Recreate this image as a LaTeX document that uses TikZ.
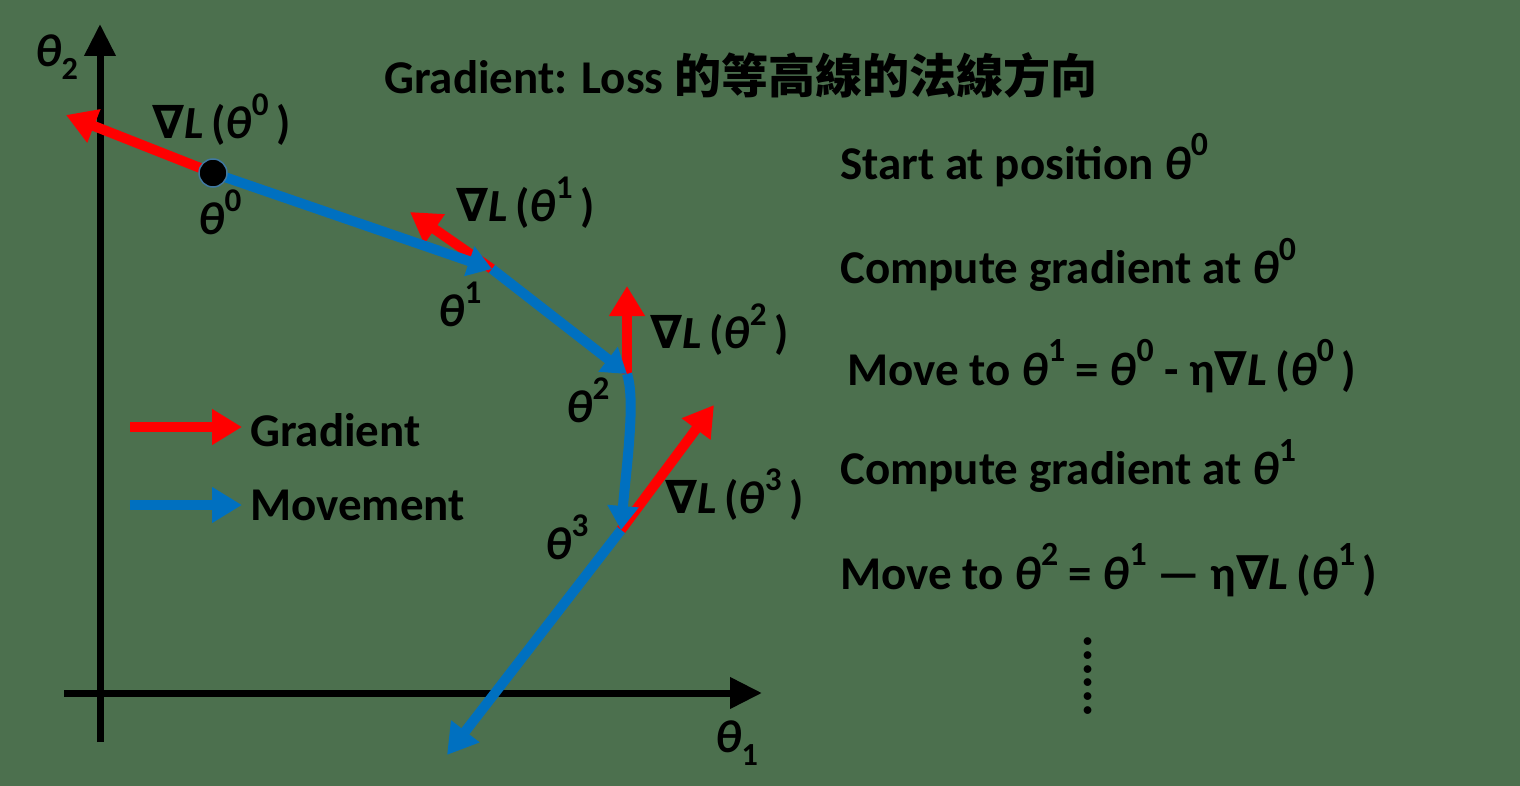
\documentclass[tikz,border=0pt]{standalone}
\usepackage{fontspec}
\setmainfont{Carlito}
\newfontfamily\cjk{Noto Sans CJK TC}
\newfontfamily\dv{DejaVu Sans}
\usetikzlibrary{arrows.meta}
\definecolor{bg}{RGB}{76,112,78}
\definecolor{gred}{RGB}{255,0,0}
\definecolor{mblue}{RGB}{0,112,192}
\newcommand{\sups}[1]{\raisebox{0.5em}{\scalebox{0.72}{#1}}}
\newcommand{\tht}[1]{\textit{θ}\sups{#1}}
\newcommand{\nab}{{\dv\bfseries\itshape ∇}}
\newcommand{\gradL}[1]{\nab\textit{L}\,(\tht{#1}\,)}
\tikzset{
  axisline/.style={line width=7pt,-{Triangle[length=32pt,width=30pt]}},
  gradarrow/.style={gred,line width=10pt,-{Triangle[length=30pt,width=34pt]}},
  movearrow/.style={mblue,line width=10pt,-{Triangle[length=24pt,width=30pt]}},
  lbl/.style={inner sep=0pt,font=\bfseries\fontsize{46}{54}\selectfont},
  rtxt/.style={inner sep=0pt,anchor=west,font=\bfseries\fontsize{47}{56}\selectfont},
}
\begin{document}
\begin{tikzpicture}[x=1pt,y=-1pt]
\fill[bg] (0,0) rectangle (1520,786);
\useasboundingbox (0,0) rectangle (1520,786);
% axes
\coordinate (ybot) at (100,742);
\coordinate (ytop) at (100,24);
\coordinate (xl) at (64,693);
\coordinate (xr) at (762,693);
\draw[axisline] (ybot) -- (ytop);
\draw[axisline] (xl) -- (xr);
\node[lbl] (th2lab) at (57,57) {\textit{θ}\textsubscript{2}};
\node[lbl] (th1lab) at (737,743) {\textit{θ}\textsubscript{1}};
% points
\coordinate (p1) at (492,269);
\coordinate (p2) at (627,374);
\coordinate (p3) at (621,530);
\coordinate (pend) at (447,755);
\coordinate (g0) at (66,115);
\coordinate (g1) at (410,212);
\coordinate (g2) at (627,286);
\coordinate (g3) at (714,405);
% gradients
\draw[gradarrow] (213,173) -- (g0);
\draw[gradarrow] (p1) -- (g1);
\draw[gradarrow] (p2) -- (g2);
\draw[gradarrow] (p3) -- (g3);
% movements
\draw[movearrow] (213,173) -- (p1);
\draw[movearrow] (p1) -- (p2);
\draw[movearrow] (p2) .. controls (636,400) and (626,470) .. (p3);
\draw[movearrow,-{Triangle[length=30pt,width=34pt]}] (p3) -- (pend);
\node[circle,fill=black,draw=mblue!50!gray,line width=1.5pt,inner sep=0pt,minimum size=28pt] (p0) at (213,173) {};
% labels
\node[lbl,anchor=west] (l0) at (152,120) {\gradL{0}};
\node[lbl] (t0) at (220,212) {\tht{0}};
\node[lbl,anchor=west] (l1) at (456,203) {\gradL{1}};
\node[lbl] (t1) at (460,304) {\tht{1}};
\node[lbl,anchor=west] (l2) at (650,330) {\gradL{2}};
\node[lbl] (t2) at (588,400) {\tht{2}};
\node[lbl,anchor=west] (l3) at (665,495) {\gradL{3}};
\node[lbl] (t3) at (567,537) {\tht{3}};
% legend
\coordinate (lg1a) at (130,427);
\coordinate (lg1b) at (242,427);
\coordinate (lg2a) at (130,505);
\coordinate (lg2b) at (242,505);
\draw[gradarrow] (lg1a) -- (lg1b);
\draw[movearrow,-{Triangle[length=30pt,width=34pt]}] (lg2a) -- (lg2b);
\node[rtxt] (leg1) at (250,430) {Gradient};
\node[rtxt] (leg2) at (250,505) {Movement};
% title
\node[rtxt] (title) at (384,75) {Gradient: Loss {\cjk\bfseries 的等高線的法線方向}};
% right text
\node[rtxt] (s1) at (840,160) {Start at position \tht{0}};
\node[rtxt] (s2) at (840,265) {Compute gradient at \tht{0}};
\node[rtxt] (s3) at (847,366) {Move to \tht{1} = \tht{0} - η\nab\textit{L}\,(\tht{0}\,)};
\node[rtxt] (s4) at (840,466) {Compute gradient at \tht{1}};
\node[rtxt] (s5) at (840,570) {Move to \tht{2} = \tht{1} — η\nab\textit{L}\,(\tht{1}\,)};
\node[rtxt,anchor=center,rotate=90,font=\bfseries\fontsize{52}{60}\selectfont] (dots) at (1088,676) {......};
\end{tikzpicture}
\end{document}
